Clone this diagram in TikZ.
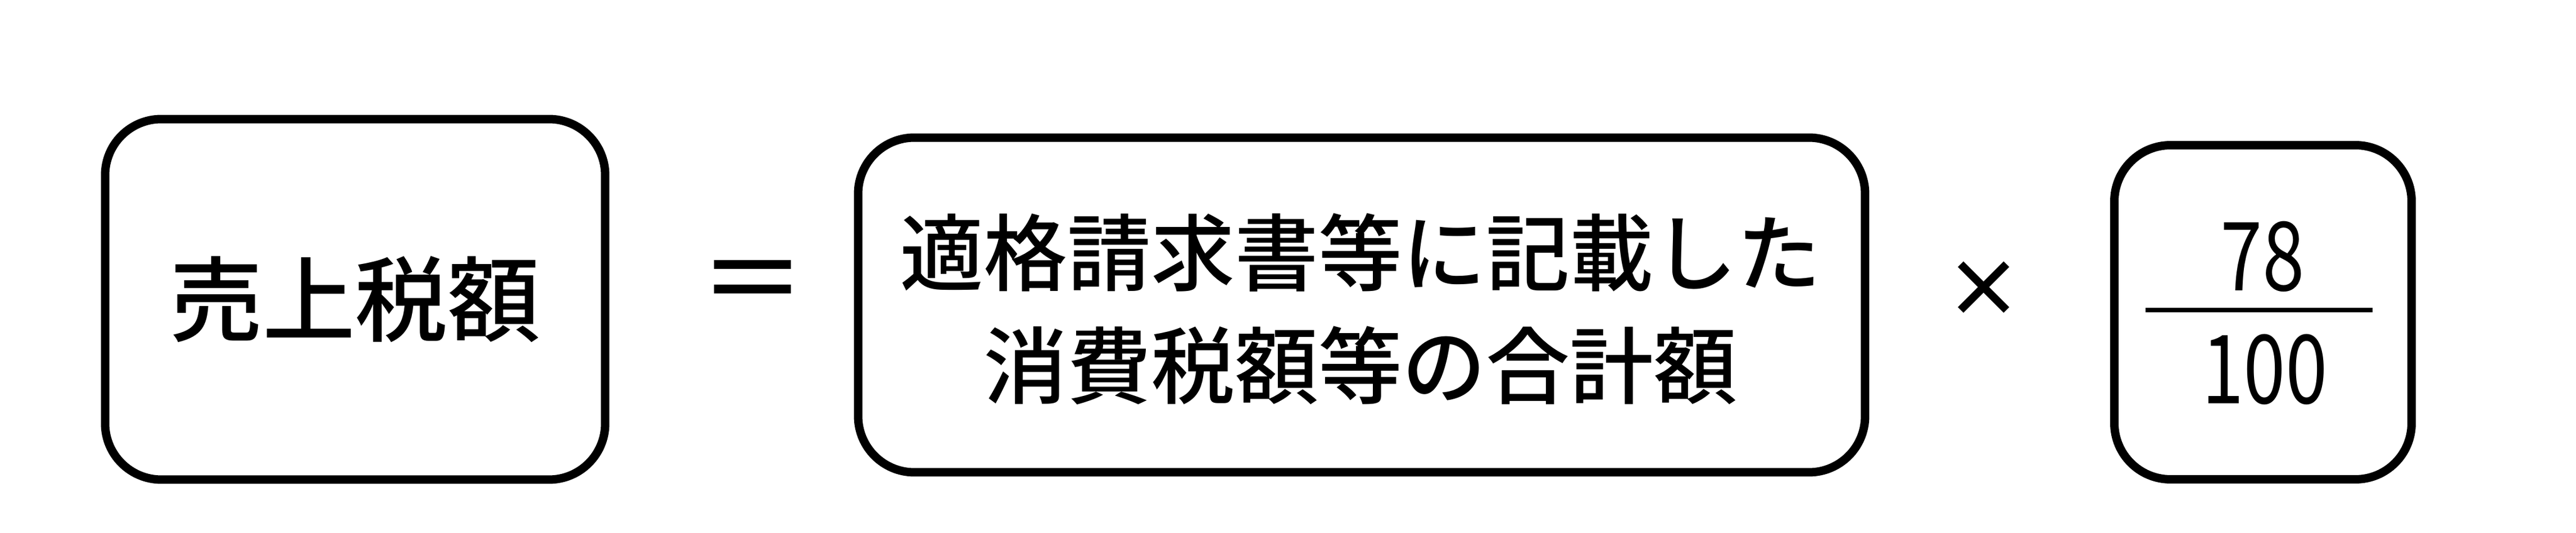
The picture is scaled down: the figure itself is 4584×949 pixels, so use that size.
\documentclass[tikz,border=0pt]{standalone}
\usepackage{fontspec}
\newfontfamily\jp{Noto Sans CJK JP}[UprightFont={* Medium}]
\newfontfamily\jpb{Noto Sans CJK JP}[UprightFont={* Bold}]
\newfontfamily\jpr{Noto Sans CJK JP}
\tikzset{
  termbox/.style={draw=black, line width=1.5pt, rounded corners=10pt, inner sep=0pt, fill=white},
  bigtxt/.style={font=\jp\fontsize{16.5}{20}\selectfont, inner sep=0pt},
  midtxt/.style={font=\jp\fontsize{14.9}{20.1}\selectfont, inner sep=0pt, align=center},
  numtxt/.style={font=\jpr\fontsize{17}{20}\selectfont, inner sep=0pt, xscale=0.79},
  optxt/.style={font=\jpb\fontsize{16}{18}\selectfont, inner sep=0pt},
  eqtxt/.style={font=\jp\fontsize{19}{20}\selectfont, inner sep=0pt}
}
\begin{document}
\begin{tikzpicture}[x=0.1pt,y=-0.1pt]
\useasboundingbox[fill=white] (0,0) rectangle (4584,949);
% box 1
\node[termbox, minimum width=89pt, minimum height=64.2pt] (b1) at (632,533) {};
\node[bigtxt] (t1) at (b1.center) {売上税額};
% equals
\node[eqtxt] (eq) at (1339,515) {＝};
% box 2
\node[termbox, minimum width=179.2pt, minimum height=59.6pt] (b2) at (2423,543) {};
\node[midtxt] (t2) at (2421,550) {適格請求書等に記載した\\消費税額等の合計額};
% times
\node[optxt, scale=0.87] (times) at (3530,515) {×};
% box 3
\node[termbox, minimum width=52.9pt, minimum height=59.5pt] (b3) at (4027,556) {};
\node[numtxt] (num) at (4026,457) {78};
\node[numtxt] (den) at (4030,658) {100};
\coordinate (fl) at (3818,552);
\coordinate (fr) at (4222,552);
\draw[line width=0.8pt] (fl) -- (fr);
\end{tikzpicture}
\end{document}
